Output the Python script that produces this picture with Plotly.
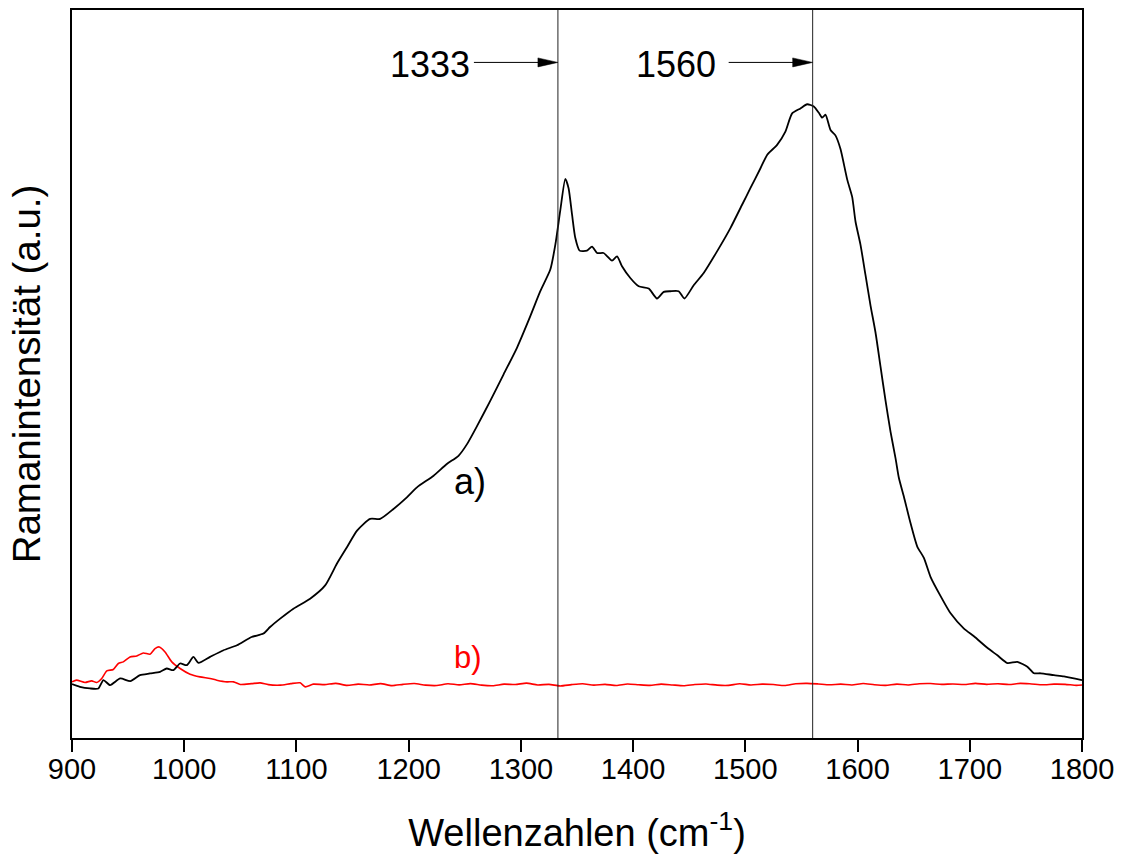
import plotly.graph_objects as go

# Raman spectra: a) sample with D/G bands, b) reference (red)
wavenumber_a = [
    900, 907, 916, 923.5, 928, 934, 943, 952, 960.6, 969.5, 978.5, 984.4, 990.3,
    996.3, 1002.3, 1008.2, 1012.7, 1023, 1035, 1047, 1060, 1070.6, 1076.5, 1085.5,
    1097.3, 1112.2, 1125.6, 1136, 1145, 1154, 1165.7, 1174.6, 1186.5, 1198.4,
    1207.4, 1222.2, 1234, 1244.4, 1252, 1261, 1272.7, 1284.6, 1296.5, 1308.4,
    1317.3, 1326.2, 1330.7, 1335.1, 1339.6, 1342.5, 1345.6, 1348.5, 1352.3,
    1358.9, 1363.4, 1367.9, 1373.7, 1381.2, 1385.7, 1390.1, 1397.5, 1405, 1413.9,
    1421.3, 1427.3, 1433.2, 1440.6, 1445.7, 1454, 1462.9, 1474.8, 1486.7, 1497.1,
    1504.5, 1513.5, 1519.4, 1528.3, 1535.7, 1541.7, 1549.1, 1555.1, 1561, 1565.5,
    1568.5, 1571.4, 1575.9, 1580.4, 1584.8, 1590.8, 1595.2, 1598.2, 1602.6,
    1607.1, 1611.6, 1616, 1620.5, 1625, 1629.4, 1633.9, 1636.8, 1641.3, 1647.3,
    1653.2, 1659.1, 1665.1, 1674, 1682.9, 1694.8, 1703.7, 1715.6, 1724.6, 1733.5,
    1742.4, 1751.3, 1757.2, 1763.1, 1775, 1783.9, 1800,
]
intensity_a = [
    53, 50.3, 48.7, 48.7, 57, 52, 58.7, 56, 62, 63.7, 65.3, 68.7, 67,
    73.7, 72, 80.3, 74.3, 80.3, 87, 92, 100.3, 103.7, 110.3, 118.7,
    128.7, 138.7, 152, 173.7, 190.3, 207, 218.7, 218.7, 228.7, 240.3,
    250.3, 262, 273.7, 282, 293.7, 312, 337, 363.7, 390.3, 422,
    447, 468.7, 493.7, 528, 559.7, 550.3, 523.7, 500.3, 487.7,
    487.7, 491.7, 485.3, 485.3, 477.7, 482, 472, 460.3, 452, 449.7,
    439.7, 446.3, 447, 447, 439.7, 453, 465.3, 487, 510.3, 533.7,
    550.3, 570.3, 583.7, 593.7, 607, 625.3, 630.3, 634.5, 632.2, 625.9,
    621, 624, 608.7, 603, 589.5, 558.9, 541.6, 516.7, 493.7,
    463.1, 432.4, 405.6, 371.1, 336.7, 306, 279.2, 260, 240.9, 214,
    191, 179.6, 160.4, 141.3, 124, 108.7, 101, 89.5, 81.9, 74.2,
    75.4, 70.4, 63.9, 63.9, 62, 60.8, 57,
]

wavenumber_b = [
    900, 904, 911.6, 917.5, 922, 926.5, 931, 936.8, 941.3, 945.7, 951.7, 957.7,
    963.6, 969.5, 974, 977.8, 982.9, 988.9, 996.3, 1005.2, 1014, 1023, 1029,
    1038, 1044, 1050, 1060, 1067.6, 1075, 1085.5, 1095, 1103.3, 1107.8, 1115,
    1125, 1135, 1145, 1155, 1165, 1175, 1185, 1195, 1205, 1215, 1225, 1235,
    1245, 1255, 1265, 1275, 1285, 1295, 1305, 1315, 1325, 1335, 1345, 1355,
    1365, 1375, 1385, 1395, 1405, 1415, 1425, 1435, 1445, 1455, 1465, 1475,
    1485, 1495, 1505, 1515, 1525, 1535, 1545, 1555, 1565, 1575, 1585, 1595,
    1605, 1615, 1625, 1635, 1645, 1655, 1665, 1675, 1685, 1695, 1705, 1715,
    1725, 1735, 1745, 1755, 1765, 1775, 1785, 1795, 1800,
]
intensity_b = [
    55.3, 57, 54.7, 56.3, 54.7, 58.7, 66.3, 67.7, 73.7, 75.3, 80.3, 81.3,
    84.3, 83, 88.7, 90.3, 85.3, 75.3, 68.7, 63, 60.3, 58.7, 57,
    55.3, 55.3, 52.7, 53.5, 54.3, 52.5, 52, 53.5, 54.3, 50.3, 53,
    52.5, 53.8, 51.8, 53, 52.2, 53.5, 51.5, 52.8, 53.6, 52, 51.6, 53.4,
    52.3, 53.5, 52, 51.4, 53, 52.6, 54, 52.2, 52.8, 51.2, 52.5, 53.4,
    52, 52.8, 51.6, 53.2, 52.4, 51.8, 53, 52.2, 51.4, 52.6, 53.2, 52,
    51.8, 53.4, 52.2, 53, 52.6, 51.6, 53.4, 53.8, 53.2, 52.4, 53, 52.2,
    53.6, 52.4, 51.8, 53, 52.2, 53.4, 53.6, 52.8, 53.2, 52.6, 53.8, 52.8,
    53.4, 52.6, 53.8, 53.2, 52.4, 53, 52.8, 51.8, 52.2,
]

band_positions = [1333, 1560]
band_labels = ["1333", "1560"]
band_label_shift = [-128, -137]

FONT = "Liberation Sans, Arial, sans-serif"

fig = go.Figure()
fig.add_trace(go.Scatter(
    x=wavenumber_b, y=intensity_b, mode="lines",
    line=dict(color="#ff0000", width=1.6, shape="spline", smoothing=0.6),
    showlegend=False,
))
fig.add_trace(go.Scatter(
    x=wavenumber_a, y=intensity_a, mode="lines",
    line=dict(color="#000000", width=1.8, shape="spline", smoothing=0.6),
    showlegend=False,
))

arrow_y = 0.928
for pos, label, shift in zip(band_positions, band_labels, band_label_shift):
    # marker line for the band position
    fig.add_shape(type="line", xref="x", yref="paper", x0=pos, x1=pos, y0=0, y1=1,
                  line=dict(color="#222222", width=1))
    # arrow shaft and head, sized in pixels relative to the band position
    fig.add_shape(type="path", xref="x", yref="paper",
                  xsizemode="pixel", ysizemode="pixel",
                  xanchor=pos, yanchor=arrow_y,
                  path="M-84,0 L-18,0",
                  line=dict(color="black", width=1))
    fig.add_shape(type="path", xref="x", yref="paper",
                  xsizemode="pixel", ysizemode="pixel",
                  xanchor=pos, yanchor=arrow_y,
                  path="M-20,-4.5 L0,0 L-20,4.5 Z",
                  fillcolor="black", line=dict(color="black", width=0.5))
    fig.add_annotation(x=pos, y=arrow_y, xref="x", yref="paper", text=label,
                       showarrow=False, xanchor="center", yanchor="middle",
                       xshift=shift, yshift=-2,
                       font=dict(family=FONT, size=36, color="black"))

fig.add_annotation(x=1254.6, y=256, xref="x", yref="y", text="a)", showarrow=False,
                   xanchor="center", yanchor="middle",
                   font=dict(family=FONT, size=36, color="black"))
fig.add_annotation(x=1253.1, y=80, xref="x", yref="y", text="b)", showarrow=False,
                   xanchor="center", yanchor="middle",
                   font=dict(family=FONT, size=31, color="#ff0000"))

fig.update_layout(
    width=1123, height=859,
    margin=dict(l=72, r=41, t=8, b=121),
    paper_bgcolor="white", plot_bgcolor="white",
    font=dict(family=FONT, color="black"),
    xaxis=dict(
        range=[900, 1800], tickvals=list(range(900, 1801, 100)),
        ticks="outside", ticklen=12, tickwidth=2, tickcolor="black",
        ticklabelstandoff=-8,
        showline=True, linewidth=2, linecolor="black", mirror=True,
        showgrid=False, zeroline=False,
        tickfont=dict(family=FONT, size=29, color="black"),
        title=dict(text="Wellenzahlen (cm<sup>-1</sup>)", standoff=36,
                   font=dict(family=FONT, size=38, color="black")),
    ),
    yaxis=dict(
        range=[-1, 729], showticklabels=False, ticks="",
        showline=True, linewidth=2, linecolor="black", mirror=True,
        showgrid=False, zeroline=False,
        title=dict(text="Ramanintensität (a.u.)", standoff=18,
                   font=dict(family=FONT, size=38.5, color="black")),
    ),
)

fig.write_html("out.html")
